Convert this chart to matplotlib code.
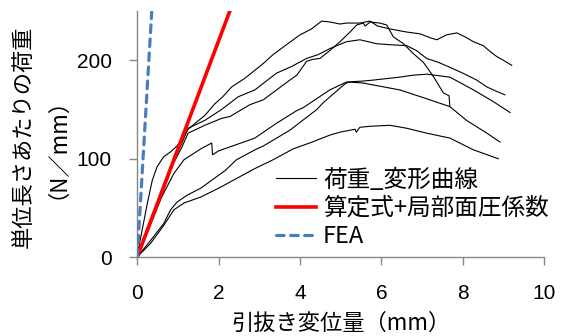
import matplotlib
matplotlib.use("Agg")
import matplotlib.pyplot as plt

plt.rcParams['font.family'] = ['Noto Sans CJK JP', 'DejaVu Sans']

# ── Data ──────────────────────────────────────────────────────────────────────
# load–displacement test curves (6 specimens)
a_x = [0, 0.03, 0.25, 0.37, 0.49, 0.65, 0.82, 0.98, 1.1, 1.25, 1.45, 1.66, 1.91, 2.1,
       2.32, 2.65, 2.89, 3.1, 3.34, 3.7, 4.0, 4.28, 4.53, 4.75, 4.98, 5.14, 5.47, 5.72,
       5.9, 6.21, 6.6, 6.95, 7.2, 7.36, 7.6, 7.85, 8.05, 8.26, 8.5, 8.67, 8.83, 9.0, 9.2]
a_y = [0, 8, 55, 78, 92, 102, 107, 113, 120, 130, 137, 144, 156, 163,
       173, 182, 190, 197, 206, 217, 226, 232, 240, 239, 237, 238, 238, 240,
       235, 232, 229, 227, 223, 221, 226, 228, 224, 219, 215, 209, 204, 200, 195]

b_x = [0, 0.3, 0.6, 0.9, 1.1, 1.25, 1.66, 2.07, 2.48, 2.89, 3.42, 3.8, 4.16, 4.45,
       4.73, 5.14, 5.47, 5.88, 6.2, 6.62, 6.86, 7.11, 7.4, 7.68, 8.0, 8.34, 8.59, 8.8, 9.03]
b_y = [0, 33, 66, 99, 116, 131, 139, 150, 163, 170, 187, 194, 202, 206,
       212, 219, 221, 217, 216, 215, 210, 202, 198, 193, 187, 180, 173, 169, 165]

c_x = [0, 0.3, 0.6, 0.9, 1.15, 1.56, 1.83, 1.85, 2.0, 2.48, 2.89, 3.1, 3.42, 3.92,
       4.08, 4.73, 5.14, 5.55, 5.8, 6.45, 6.78, 7.11, 7.68, 8.26, 8.75, 9.16]
c_y = [0, 30, 61, 85, 99, 110, 116, 104, 108, 115, 121, 127, 136, 149,
       152, 170, 178, 179, 180, 183, 185, 186, 183, 170, 158, 147]

d_x = [0, 0.3, 0.6, 0.9, 1.1, 1.25, 1.66, 2.07, 2.28, 2.77, 3.1, 3.26, 3.75, 3.92,
       4.16, 4.3, 4.49, 4.73, 4.98, 5.23, 5.39, 5.55, 5.6, 5.72, 5.96, 6.13, 6.29,
       6.54, 6.78, 7.03, 7.27, 7.52, 7.66, 7.68]
d_y = [0, 31, 63, 96, 112, 126, 134, 141, 143, 155, 160, 165, 180, 185,
       199, 201, 202, 210, 219, 229, 236, 238, 235, 239, 238, 236, 224,
       217, 207, 198, 184, 167, 164, 153]

e_x = [0, 0.33, 0.65, 0.82, 0.98, 1.23, 1.56, 2.16, 2.44, 2.89, 3.1, 3.75, 4.0, 4.41,
       4.57, 4.82, 5.1, 5.19, 5.55, 5.8, 6.45, 7.11, 7.68, 8.09, 8.59, 8.91]
e_y = [0, 17, 34, 48, 56, 63, 70, 88, 99, 109, 113, 129, 137, 150,
       157, 166, 176, 178, 177, 175, 170, 161, 153, 139, 126, 117]

f_x = [0, 0.33, 0.65, 0.9, 1.15, 1.56, 2.0, 2.89, 3.34, 3.83, 4.3, 4.73, 4.98, 5.35,
       5.38, 5.47, 5.72, 6.21, 6.62, 7.11, 7.68, 8.26, 8.87]
f_y = [0, 14, 32, 48, 55, 61, 70, 90, 99, 110, 117, 124, 127, 130,
       127, 132, 133, 134, 131, 126, 121, 109, 100]

tests = [(a_x, a_y), (b_x, b_y), (c_x, c_y), (d_x, d_y), (e_x, e_y), (f_x, f_y)]

# design formula + local bearing coefficient, and FEA
calc_x = [0, 2.5]
calc_y = [0, 275]
fea_x = [0, 0.4]
fea_y = [0, 280]

x_ticks = [0, 2, 4, 6, 8, 10]
y_ticks = [0, 100, 200]

label_test = "荷重_変形曲線"
label_calc = "算定式+局部面圧係数"
label_fea = "FEA"

# ── Figure ────────────────────────────────────────────────────────────────────
fig = plt.figure(figsize=(5.67, 3.36), dpi=100)
ax = fig.add_axes([0.242, 0.235, 0.718, 0.7315])

for i, (tx, ty) in enumerate(tests):
    ax.plot(tx, ty, color="black", linewidth=0.8,
            label=label_test if i == 0 else None, zorder=3)

ax.plot(calc_x, calc_y, color="#ff0000", linewidth=2.6, label=label_calc, zorder=4)
ax.plot(fea_x, fea_y, color="#4a7ebb", linewidth=2.3, linestyle=(0, (2.4, 2.0)),
        dash_capstyle="round", label=label_fea, zorder=4)

ax.set_xlim(0, 10)
ax.set_ylim(0, 250)
ax.set_xticks(x_ticks)
ax.set_yticks(y_ticks)

AXIS = "#868686"
for side in ("top", "right"):
    ax.spines[side].set_visible(False)
for side in ("left", "bottom"):
    ax.spines[side].set_color(AXIS)
    ax.spines[side].set_linewidth(1.0)
ax.tick_params(axis="both", direction="out", length=5.5, width=1.0,
               color=AXIS, labelsize=15, labelcolor="black")
ax.tick_params(axis="y", pad=13)
ax.tick_params(axis="x", pad=14)
for lbl in ax.get_xticklabels() + ax.get_yticklabels():
    lbl.set_fontfamily(["Liberation Sans", "DejaVu Sans"])

ax.set_xlabel("引抜き変位量（mm）", fontsize=16, labelpad=6)
ax.set_ylabel("単位長さあたりの荷重\n（N／mm）", fontsize=16, linespacing=0.92)
ax.yaxis.set_label_coords(-0.196, 0.49)

leg = ax.legend(loc="upper left", bbox_to_anchor=(0.34, 0.36), frameon=False,
                fontsize=17, handlelength=1.7, handletextpad=0.3,
                labelspacing=0.22, borderpad=0, borderaxespad=0)

fig.savefig("out.png", dpi=100)
